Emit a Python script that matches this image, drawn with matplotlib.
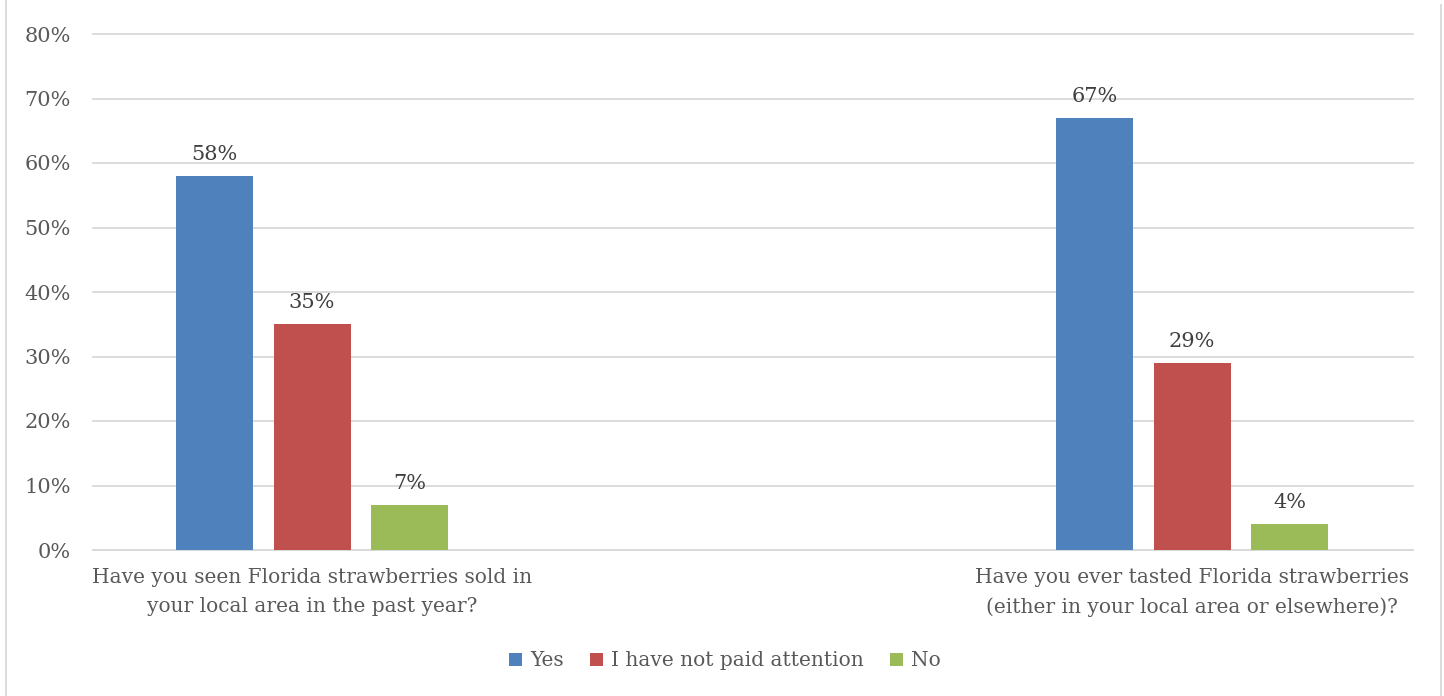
import numpy as np
import matplotlib.pyplot as plt
from matplotlib.lines import Line2D

questions = [
    "Have you seen Florida strawberries sold in\nyour local area in the past year?",
    "Have you ever tasted Florida strawberries\n(either in your local area or elsewhere)?",
]
answers = ["Yes", "I have not paid attention", "No"]
values = {
    "Yes": [58, 67],
    "I have not paid attention": [35, 29],
    "No": [7, 4],
}
colors = ["#4F81BD", "#C0504D", "#9BBB59"]
yticks = [0, 10, 20, 30, 40, 50, 60, 70, 80]

plt.rcParams['font.family'] = ['DejaVu Serif']
text_color = '#595959'

fig = plt.figure(figsize=(14.44, 6.96), dpi=100)
ax = fig.add_axes([93 / 1444, 1 - 550 / 696, 1320 / 1444, 516 / 696])

x = np.arange(len(questions))
width = 0.0875
step = 0.111
for i, ans in enumerate(answers):
    pos = x + (i - 1) * step
    bars = ax.bar(pos, values[ans], width, color=colors[i], label=ans, zorder=3)
    for b, v in zip(bars, values[ans]):
        ax.text(b.get_x() + b.get_width() / 2, v + 1.9, f"{v}%",
                ha='center', va='bottom', fontsize=15, color='#404040')

ax.set_xlim(-0.2489, 1.2511)
ax.set_ylim(0, 80)
ax.set_yticks(yticks)
ax.set_yticklabels([f"{t}%" for t in yticks])
ax.yaxis.grid(True, color='#d9d9d9', linewidth=1.3, zorder=0)
for gl in ax.get_ygridlines():
    gl.set_clip_on(False)
ax.set_xticks(x)
ax.set_xticklabels(questions, fontsize=14.5, color=text_color, linespacing=1.65)
ax.tick_params(axis='y', length=0, labelsize=15, labelcolor=text_color, pad=16)
ax.tick_params(axis='x', length=0, pad=13)
for s in ['top', 'right', 'left']:
    ax.spines[s].set_visible(False)
ax.spines['bottom'].set_color('#d9d9d9')
ax.spines['bottom'].set_linewidth(1.3)

leg = fig.legend(loc='center', bbox_to_anchor=(725 / 1444, 1 - 661 / 696),
                 ncol=3, frameon=False, fontsize=14.5, handlelength=0.65,
                 handleheight=0.65, handletextpad=0.4, columnspacing=1.3)
for t in leg.get_texts():
    t.set_color(text_color)

# chart border sides
fig.add_artist(Line2D([6 / 1444, 6 / 1444], [0, 1], color='#d9d9d9', lw=1.3))
fig.add_artist(Line2D([1441 / 1444, 1441 / 1444], [0, 1 - 5 / 696], color='#d9d9d9', lw=1.3))

plt.savefig('out.png', dpi=100)
